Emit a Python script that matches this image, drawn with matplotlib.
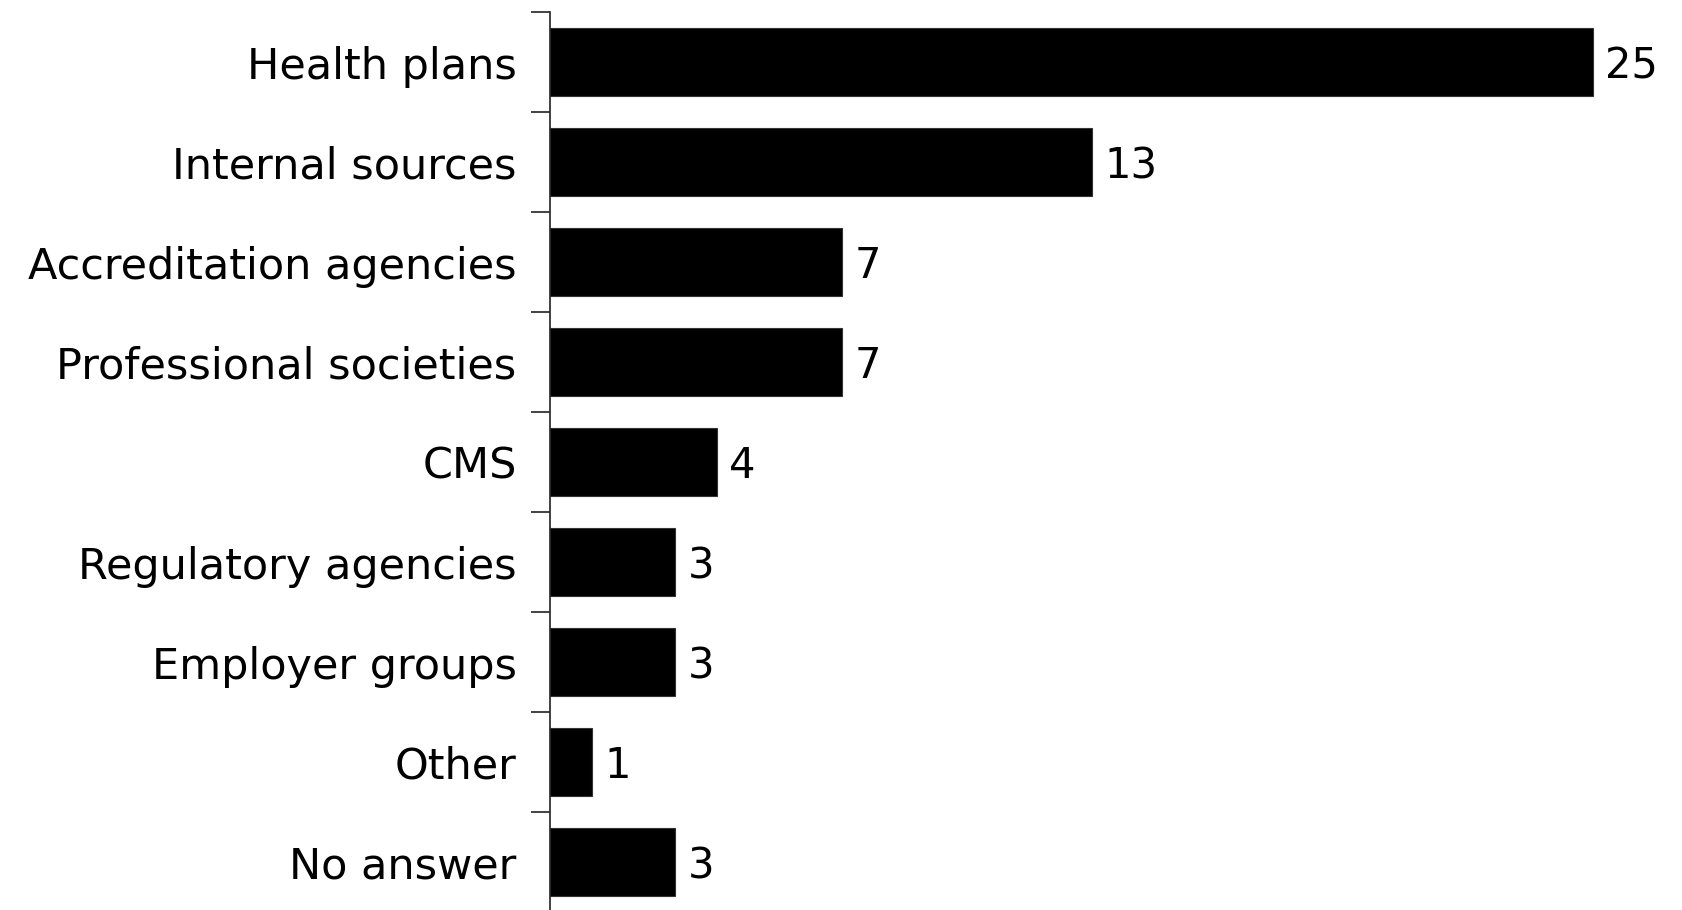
import matplotlib
matplotlib.use("Agg")
import matplotlib.pyplot as plt
import numpy as np

categories = ["Health plans", "Internal sources", "Accreditation agencies",
              "Professional societies", "CMS", "Regulatory agencies",
              "Employer groups", "Other", "No answer"]
values = [25, 13, 7, 7, 4, 3, 3, 1, 3]

plt.rcParams['font.family'] = ['DejaVu Sans']

W, H = 1683, 910
fig = plt.figure(figsize=(W / 100, H / 100), dpi=100)
left_px, top_px, bottom_px = 550, 12, 912
ax = fig.add_axes([left_px / W, (H - bottom_px) / H, (W - left_px) / W, (bottom_px - top_px) / H])

y = np.arange(len(categories))
ax.barh(y, values, height=0.68, color='black', edgecolor='#333333', linewidth=0.8)
ax.set_ylim(len(categories) - 0.5, -0.5)
ax.set_xlim(0, (W - left_px) / 41.7)

for yi, v in zip(y, values):
    ax.text(v + 0.3, yi, str(v), va='center_baseline', ha='left', fontsize=30)

for s in ['top', 'right', 'bottom']:
    ax.spines[s].set_visible(False)
ax.spines['left'].set_linewidth(1.2)
ax.spines['left'].set_color('#222222')

ax.set_xticks([])
ax.set_yticks(np.arange(-0.5, len(categories), 1.0))
ax.set_yticklabels([])
ax.tick_params(axis='y', which='major', length=14, width=1.2, color='#222222', direction='out')
ax.set_yticks(y, minor=True)
ax.set_yticklabels(categories, minor=True, fontsize=31)
for lab in ax.get_yticklabels(minor=True):
    lab.set_verticalalignment('center_baseline')
ax.tick_params(axis='y', which='minor', length=0, pad=24)

fig.savefig("out.png", dpi=100)
